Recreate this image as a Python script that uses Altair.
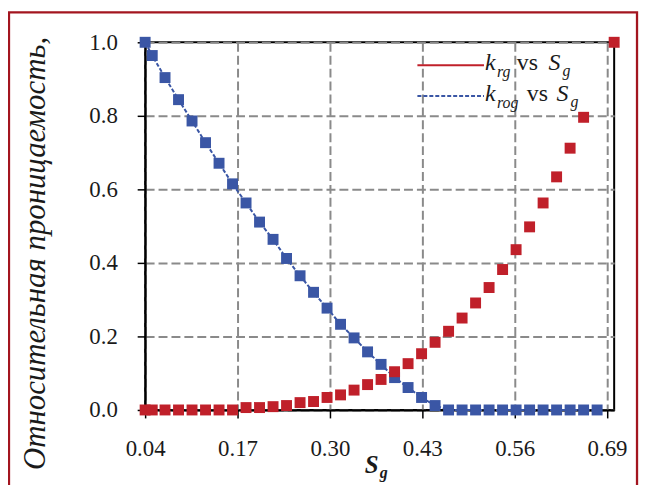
import altair as alt
import pandas as pd

# ---- data ----
sg_rog = [0.04, 0.05, 0.068, 0.087, 0.106, 0.125, 0.144, 0.163, 0.182, 0.201,
          0.220, 0.239, 0.258, 0.277, 0.296, 0.315, 0.334, 0.353, 0.372, 0.391,
          0.410, 0.429, 0.448, 0.467, 0.486, 0.505, 0.524, 0.543, 0.562, 0.581,
          0.600, 0.619, 0.638, 0.657, 0.676]
krog = [1.0, 0.964, 0.904, 0.844, 0.786, 0.727, 0.671, 0.615, 0.563, 0.511,
        0.464, 0.412, 0.365, 0.320, 0.277, 0.233, 0.196, 0.158, 0.124, 0.088,
        0.061, 0.034, 0.012, 0.0, 0.0, 0.0, 0.0, 0.0, 0.0, 0.0,
        0.0, 0.0, 0.0, 0.0, 0.0]

sg_rg = [0.04, 0.05, 0.068, 0.087, 0.106, 0.125, 0.144, 0.163, 0.182, 0.201,
         0.220, 0.239, 0.258, 0.277, 0.296, 0.315, 0.334, 0.353, 0.372, 0.391,
         0.410, 0.429, 0.448, 0.467, 0.486, 0.505, 0.524, 0.543, 0.562, 0.581,
         0.600, 0.619, 0.638, 0.657, 0.70]
krg = [0.0, 0.0, 0.0, 0.0, 0.0, 0.0, 0.0, 0.0, 0.0065, 0.0065,
       0.009, 0.012, 0.020, 0.023, 0.034, 0.041, 0.054, 0.069, 0.083, 0.104,
       0.126, 0.153, 0.184, 0.214, 0.250, 0.291, 0.333, 0.382, 0.436, 0.498,
       0.563, 0.634, 0.712, 0.796, 1.0]

x_ticks = [0.04, 0.17, 0.30, 0.43, 0.56, 0.69]
y_ticks = [0.0, 0.2, 0.4, 0.6, 0.8, 1.0]
y_title = "Относительная проницаемость,"

RED = "#C0202A"
BLUE = "#3A56A5"
BORDER = "#A3151F"
SERIF = "Liberation Serif"

blue_df = pd.DataFrame({"Sg": sg_rog, "k": krog})
red_df = pd.DataFrame({"Sg": sg_rg, "k": krg})
one = pd.DataFrame({"a": [0]})

x_enc = alt.X("Sg:Q", scale=alt.Scale(domain=[0.04, 0.70], nice=False, zero=False),
              axis=alt.Axis(values=x_ticks, format=".2f", title=None, labelFlush=False))
y_enc = alt.Y("k:Q", scale=alt.Scale(domain=[0, 1], nice=False),
              axis=alt.Axis(values=y_ticks, format=".1f", title=y_title,
                            titleX=-101, titleY=212, titleAngle=270,
                            titleAlign="center", titleBaseline="alphabetic",
                            titleFont=SERIF, titleFontSize=31,
                            titleFontStyle="italic", titleFontWeight="normal",
                            titleColor="#1a1a1a"))

border = alt.Chart(one).mark_rect(fillOpacity=0, stroke=BORDER, strokeWidth=2.3).encode(
    x=alt.value(-137), x2=alt.value(495), y=alt.value(-30), y2=alt.value(480))

blue_line = alt.Chart(blue_df).mark_line(color=BLUE, strokeWidth=2, strokeDash=[4, 2]).encode(
    x=x_enc, y=y_enc)
blue_pts = alt.Chart(blue_df).mark_point(shape="square", filled=True, size=121,
                                         color=BLUE, opacity=1).encode(x=x_enc, y=y_enc)
red_pts = alt.Chart(red_df).mark_point(shape="square", filled=True, size=121,
                                       color=RED, opacity=1).encode(x=x_enc, y=y_enc)


def txt(s, x, y, size, style="italic", weight="normal"):
    return alt.Chart(one).mark_text(text=s, align="left", baseline="alphabetic",
                                    font=SERIF, fontSize=size, fontStyle=style,
                                    fontWeight=weight, color="#1a1a1a").encode(
        x=alt.value(x), y=alt.value(y))


leg_red = alt.Chart(one).mark_rule(color=RED, strokeWidth=2).encode(
    x=alt.value(274), x2=alt.value(341), y=alt.value(23))
leg_blue = alt.Chart(one).mark_rule(color=BLUE, strokeWidth=2, strokeDash=[4, 2]).encode(
    x=alt.value(274), x2=alt.value(341), y=alt.value(54))

legend = [
    leg_red, leg_blue,
    txt("k", 342, 28, 24), txt("rg", 354, 35, 16), txt("vs", 374, 28, 24, "normal"),
    txt("S", 406, 28, 24), txt("g", 420, 34, 16),
    txt("k", 342, 59, 24), txt("rog", 354, 66, 16), txt("vs", 384, 59, 24, "normal"),
    txt("S", 414, 59, 24), txt("g", 428, 65, 16),
    txt("S", 221, 433, 25, "italic", "bold"), txt("g", 236, 438, 16, "italic", "bold"),
]

chart = alt.layer(border, blue_line, blue_pts, red_pts, *legend).properties(
    width=472, height=370, autosize="none",
    padding={"left": 138, "top": 33, "right": 26, "bottom": 74},
).configure_view(stroke="black", strokeWidth=2).configure_axis(
    grid=True, gridDash=[9, 4], gridColor="#8a8a8a", gridWidth=2, gridOpacity=1,
    domainColor="black", domainWidth=2, tickColor="black", tickSize=8, tickWidth=1.5,
    labelFont=SERIF, labelFontSize=23, labelColor="#1a1a1a",
).configure_axisX(labelPadding=20).configure_axisY(labelPadding=20)

chart.save("out.html", embed_options={"renderer": "svg", "actions": False})
